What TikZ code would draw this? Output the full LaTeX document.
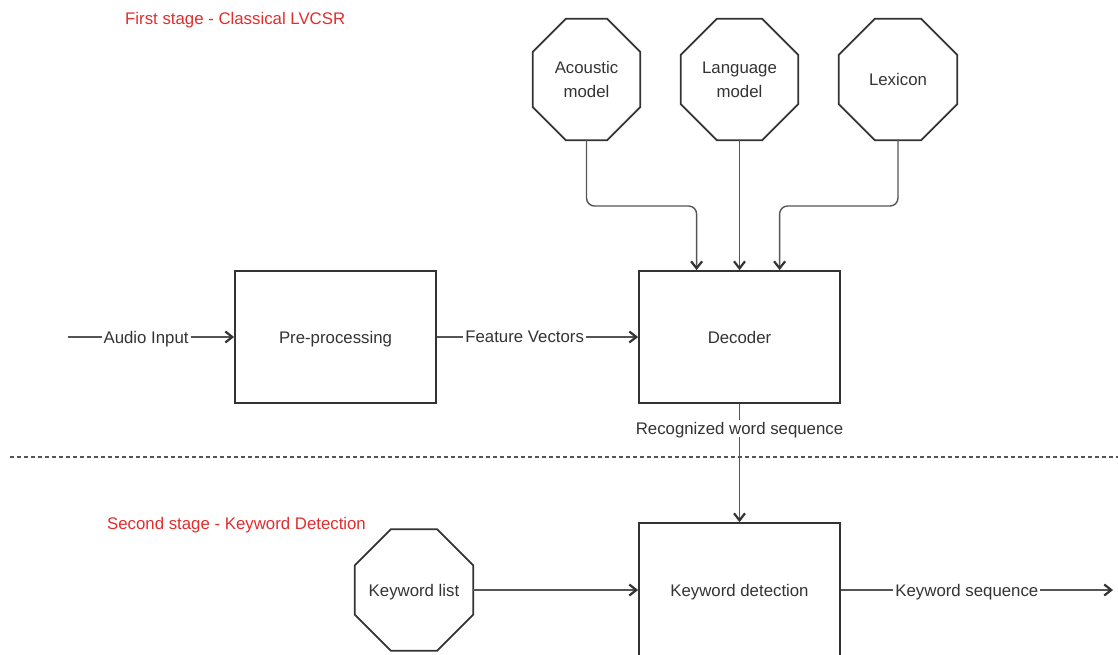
\documentclass[tikz,border=0pt]{standalone}
\usepackage{fontspec}
\setmainfont{Liberation Sans}
\usetikzlibrary{arrows.meta,calc}

\definecolor{ink}{RGB}{51,51,51}
\definecolor{wire}{RGB}{85,85,85}
\definecolor{stagered}{RGB}{226,45,45}

\tikzset{
  txt/.style={font=\fontsize{16.8}{24}\selectfont, text=ink, text depth=0pt},
  block/.style={txt, draw=ink, line width=1.8pt, inner sep=0pt, fill=white},
  octnode/.style={txt, inner sep=0pt, align=center},
  octline/.style={draw=ink, line width=1.8pt, line join=miter},
  conn/.style={draw=wire, line width=1.4pt,
    -{Straight Barb[length=7pt,width=11pt,line width=2.2pt,color=ink]}},
  lbl/.style={txt, fill=white, inner sep=2pt},
  stagelbl/.style={font=\fontsize{16.8}{24}\selectfont, text=stagered, text depth=0pt,
    anchor=west, inner sep=0pt},
}

% octagon around a node: #1 node name, #2 corner cut
\newcommand\octaround[2]{%
  \draw[octline]
    ([xshift=#2]#1.north west) -- ([xshift=-#2]#1.north east)
    -- ([yshift=-#2]#1.north east) -- ([yshift=#2]#1.south east)
    -- ([xshift=-#2]#1.south east) -- ([xshift=#2]#1.south west)
    -- ([yshift=#2]#1.south west) -- ([yshift=-#2]#1.north west) -- cycle;}

\begin{document}
\begin{tikzpicture}[x=1pt,y=-1pt]
\useasboundingbox (0,0) rectangle (1118,655);

% stage titles
\node[stagelbl] (t1) at (125,18) {First stage - Classical LVCSR};
\node[stagelbl] (t2) at (107,523) {Second stage - Keyword Detection};

% stage separator
\draw[draw=wire, line width=1.2pt, dash pattern=on 4pt off 3pt] (10,457) -- (1118,457);

% knowledge sources
\node[octnode, minimum width=107pt, minimum height=121pt] (ac) at (586.5,79.5) {Acoustic\\model};
\node[octnode, minimum width=117pt, minimum height=121pt] (lm) at (739.5,79.5) {Language\\model};
\node[octnode, minimum width=118pt, minimum height=121pt] (lx) at (898,79.5) {Lexicon};
\node[octnode, minimum width=118pt, minimum height=121pt] (kl) at (414,590) {Keyword list};
\octaround{ac}{33pt}
\octaround{lm}{36pt}
\octaround{lx}{36pt}
\octaround{kl}{36pt}

% processing blocks
\node[block, minimum width=201pt, minimum height=132pt] (pre) at (335.5,337) {Pre-processing};
\node[block, minimum width=201pt, minimum height=132pt] (dec) at (739.5,337) {Decoder};
\node[block, minimum width=201pt, minimum height=134pt] (kwd) at (739.5,590) {Keyword detection};

% free ends and bend points
\coordinate (ain) at (68,337);
\coordinate (kout) at (1113,590);
\coordinate (bend) at (0,206);
\coordinate (dinA) at ([xshift=58.5pt]dec.north west);
\coordinate (dinC) at ([xshift=141.5pt]dec.north west);

% connectors
\draw[conn] (ain) -- node[lbl, pos=0.47] {Audio Input} (pre.west);
\draw[conn] (pre.east) -- node[lbl, pos=0.436] {Feature Vectors} (dec.west);
\draw[conn, rounded corners=8pt] (ac.south) -- (ac.south |- bend) -| (dinA);
\draw[conn] (lm.south) -- (dec.north);
\draw[conn, rounded corners=8pt] (lx.south) -- (lx.south |- bend) -| (dinC);
\draw[conn] (dec.south) -- node[lbl, pos=0.208] {Recognized word sequence} (kwd.north);
\draw[conn] (kl.east) -- (kwd.west);
\draw[conn] (kwd.east) -- node[lbl, pos=0.463] {Keyword sequence} (kout);
\end{tikzpicture}
\end{document}
